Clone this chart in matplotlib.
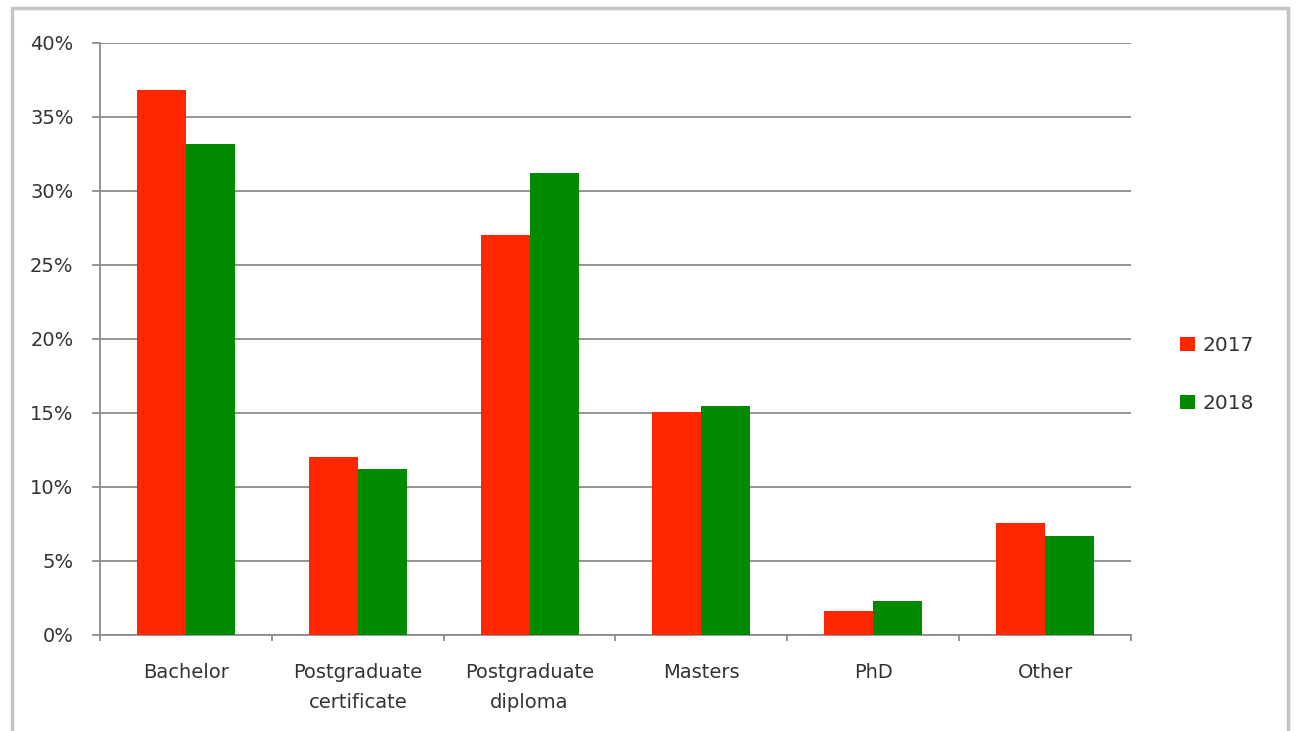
import matplotlib
matplotlib.use("Agg")
import matplotlib.pyplot as plt
from matplotlib.patches import Rectangle
from matplotlib.ticker import FuncFormatter
import numpy as np

categories = ["Bachelor", "Postgraduate\ncertificate", "Postgraduate\ndiploma",
              "Masters", "PhD", "Other"]
share_2017 = [36.8, 12.0, 27.0, 15.1, 1.6, 7.6]
share_2018 = [33.2, 11.2, 31.2, 15.5, 2.3, 6.7]
years = ["2017", "2018"]
colors = ["#ff2600", "#008a00"]

W, H = 1296, 731
fig = plt.figure(figsize=(W / 100, H / 100), dpi=100)
plt.rcParams["font.family"] = "DejaVu Sans"

# outer chart frame
fig.patches.append(Rectangle((12 / W, -0.02), 1276 / W, 1.02 - 8 / H,
                             transform=fig.transFigure, fill=False,
                             edgecolor="#c4c4c4", linewidth=2.5))

ax = fig.add_axes([100 / W, 1 - 635 / H, 1031 / W, 592 / H])

x = np.arange(len(categories))
width = 0.285
for i, (vals, year) in enumerate(zip([share_2017, share_2018], years)):
    ax.bar(x + (i - 0.5) * width, vals, width=width, color=colors[i],
           label=year, linewidth=0, zorder=3)

ax.set_xlim(-0.5, len(categories) - 0.5)
ax.set_ylim(0, 40)
ax.set_yticks(np.arange(0, 41, 5))
ax.yaxis.set_major_formatter(FuncFormatter(lambda v, _: "{:d}%".format(int(v))))
ax.grid(axis="y", color="#8c8c8c", linewidth=1.3, zorder=0)

ax.set_xticks(x)
ax.set_xticklabels(categories, linespacing=1.7)
ax.set_xticks(np.arange(-0.5, len(categories)), minor=True)
ax.tick_params(axis="x", which="major", length=0, pad=20.5, labelsize=14,
               labelcolor="#333333")
ax.tick_params(axis="x", which="minor", length=4.5, width=1.3, color="#8c8c8c")
ax.tick_params(axis="y", length=6, width=1.3, color="#8c8c8c", pad=13,
               labelsize=14, labelcolor="#333333")

for side in ["top", "right"]:
    ax.spines[side].set_visible(False)
for side in ["left", "bottom"]:
    ax.spines[side].set_color("#8c8c8c")
    ax.spines[side].set_linewidth(1.3)

ax.legend(loc="center left", bbox_to_anchor=(1080 / 1031, 0.44), frameon=False,
          fontsize=14.5, handlelength=0.75, handleheight=0.7, handletextpad=0.35,
          labelspacing=1.9, borderaxespad=0, borderpad=0, labelcolor="#333333")

fig.savefig("out.png", dpi=100)
